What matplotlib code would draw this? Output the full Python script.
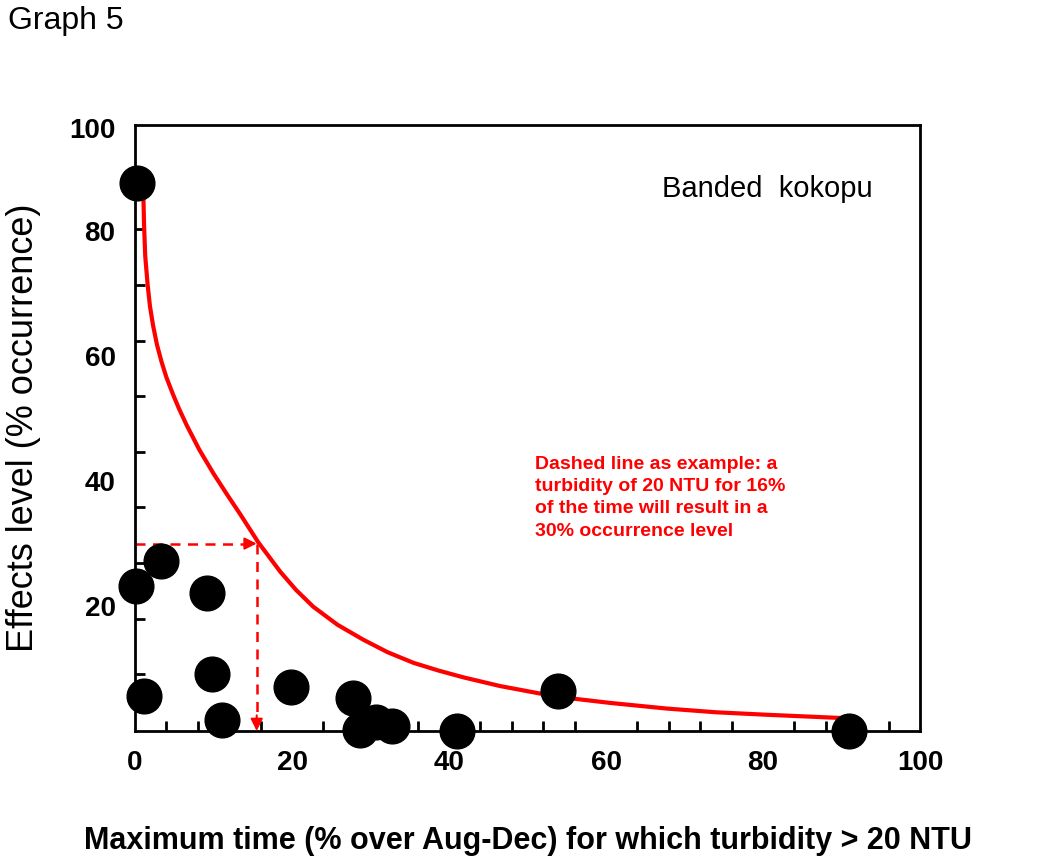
import matplotlib
matplotlib.use("Agg")
import matplotlib.pyplot as plt
import numpy as np

plt.rcParams['font.family'] = ['Liberation Sans', 'DejaVu Sans']

pts_x = [0.25, 0.1, 3.3, 9.2, 1.1, 9.8, 11.1, 19.9, 27.8, 28.7, 30.7, 32.7, 41.0, 53.9, 91.0]
pts_y = [87.7, 23.2, 27.2, 22.1, 5.6, 9.1, 1.8, 7.0, 5.3, 0.2, 1.4, 0.8, 0.0, 6.4, 0.0]

curve_x = [1.06, 1.15, 1.3, 1.6, 1.9, 2.3, 2.8, 3.4, 4.0, 4.8, 5.6, 6.6, 8.2, 10.0, 11.7, 13.4, 15.7,
           18.5, 20.5, 22.7, 25.8, 29.1, 32.2, 35.5, 38.6, 41.8, 46.5, 53.7, 60.5, 67.7, 74.0, 80.5, 86.0, 91.5]
curve_y = [85.9, 81.0, 76.0, 71.5, 68.0, 64.9, 61.8, 59.0, 56.6, 54.0, 51.6, 48.9, 45.0, 41.2, 37.9, 34.7, 30.2,
           25.5, 22.6, 19.9, 17.0, 14.6, 12.6, 10.9, 9.7, 8.6, 7.2, 5.5, 4.5, 3.6, 3.0, 2.6, 2.3, 2.0]

example_x = 15.5
example_y = 30

fig = plt.figure(figsize=(10.5, 8.58), dpi=100)
ax = fig.add_axes([0.1286, 0.148, 0.7476, 0.7063])
ax.set_xlim(0, 100)
ax.set_ylim(0, 97)

ax.plot(curve_x, curve_y, color='#ff0000', lw=3, zorder=2, solid_capstyle='butt', solid_joinstyle='round')
ax.plot(pts_x, pts_y, 'o', color='black', ms=25, clip_on=False, zorder=3)

ax.plot([0, example_x - 0.8], [example_y, example_y], color='#ff0000', lw=1.8, ls=(0, (4, 3)), zorder=1)
ax.plot([example_x, example_x], [example_y, 1.8], color='#ff0000', lw=1.8, ls=(0, (4, 3)), zorder=1)
ax.annotate('', xy=(example_x, example_y), xytext=(example_x - 1.5, example_y),
            arrowprops=dict(arrowstyle='-|>', color='#ff0000', lw=1.5, mutation_scale=18, shrinkA=0, shrinkB=0))
ax.annotate('', xy=(example_x, 0), xytext=(example_x, 2.5),
            arrowprops=dict(arrowstyle='-|>', color='#ff0000', lw=1.5, mutation_scale=18, shrinkA=0, shrinkB=0))

ax.set_xticks([0, 20, 40, 60, 80, 100])
ax.set_xticklabels(['0', '20', '40', '60', '80', '100'], fontsize=20, fontweight='bold')
ax.set_yticks([20, 40, 60, 80, 96.5])
ax.set_yticklabels(['20', '40', '60', '80', '100'], fontsize=20, fontweight='bold')
ax.tick_params(axis='both', which='major', length=0, pad=14)
ax.set_xticks(np.arange(4, 100, 4), minor=True)
ax.set_yticks([80.3 - 8.9 * k for k in range(9)], minor=True)
ax.tick_params(which='minor', direction='in', length=7, width=2)
for s in ax.spines.values():
    s.set_linewidth(2)

ax.set_xlabel('Maximum time (% over Aug-Dec) for which turbidity > 20 NTU',
              fontsize=22, fontweight='bold', labelpad=36)
ax.set_ylabel('Effects level (% occurrence)', fontsize=26, labelpad=20)

ax.text(0.94, 0.895, 'Banded  kokopu', transform=ax.transAxes, fontsize=21, ha='right', va='center')
ax.text(0.51, 0.385, 'Dashed line as example: a\nturbidity of 20 NTU for 16%\nof the time will result in a\n30% occurrence level',
        transform=ax.transAxes, fontsize=14, fontweight='bold', color='#ff0000', ha='left', va='center',
        linespacing=1.4)

fig.text(0.008, 0.975, 'Graph 5', fontsize=23, ha='left', va='center')

fig.savefig('out.png', dpi=100)
